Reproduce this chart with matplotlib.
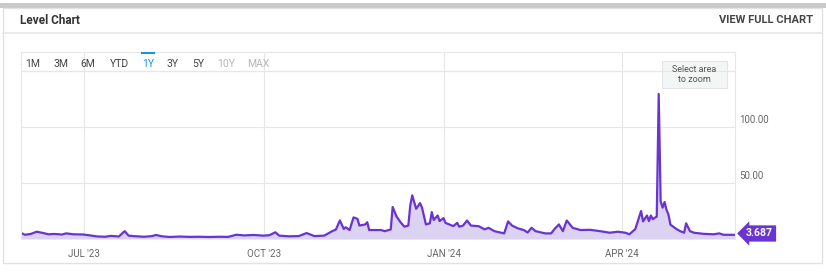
import pandas as pd
import matplotlib.pyplot as plt
import matplotlib.dates as mdates
from matplotlib.patches import Rectangle
from matplotlib.lines import Line2D

plt.rcParams['font.family'] = ['Roboto', 'DejaVu Sans']

# level series (date, value)
dates = [
    "2023-05-30", "2023-06-01", "2023-06-04", "2023-06-07", "2023-06-10", "2023-06-13",
    "2023-06-16", "2023-06-20", "2023-06-22", "2023-06-26", "2023-07-01", "2023-07-05",
    "2023-07-08", "2023-07-12", "2023-07-15", "2023-07-19", "2023-07-22", "2023-07-24",
    "2023-07-27", "2023-08-01", "2023-08-05", "2023-08-07", "2023-08-10", "2023-08-14",
    "2023-08-19", "2023-08-24", "2023-08-29", "2023-09-03", "2023-09-08", "2023-09-13",
    "2023-09-17", "2023-09-21", "2023-09-26", "2023-10-01", "2023-10-04", "2023-10-07",
    "2023-10-09", "2023-10-14", "2023-10-19", "2023-10-23", "2023-10-27", "2023-11-01",
    "2023-11-05", "2023-11-07", "2023-11-09", "2023-11-11", "2023-11-12", "2023-11-14",
    "2023-11-16", "2023-11-18", "2023-11-19", "2023-11-22", "2023-11-23", "2023-11-24",
    "2023-11-30", "2023-12-02", "2023-12-05", "2023-12-06", "2023-12-08", "2023-12-10",
    "2023-12-12", "2023-12-14", "2023-12-15", "2023-12-16", "2023-12-18", "2023-12-20",
    "2023-12-21", "2023-12-23", "2023-12-25", "2023-12-26", "2023-12-27", "2023-12-29",
    "2023-12-30", "2024-01-01", "2024-01-02", "2024-01-04", "2024-01-06", "2024-01-08",
    "2024-01-09", "2024-01-11", "2024-01-13", "2024-01-15", "2024-01-19", "2024-01-22",
    "2024-01-24", "2024-01-27", "2024-02-01", "2024-02-03", "2024-02-05", "2024-02-08",
    "2024-02-11", "2024-02-13", "2024-02-15", "2024-02-17", "2024-02-22", "2024-02-25",
    "2024-02-27", "2024-02-29", "2024-03-02", "2024-03-04", "2024-03-07", "2024-03-11",
    "2024-03-16", "2024-03-21", "2024-03-26", "2024-03-30", "2024-04-03", "2024-04-05",
    "2024-04-08", "2024-04-11", "2024-04-12", "2024-04-14", "2024-04-15", "2024-04-16",
    "2024-04-17", "2024-04-18", "2024-04-19", "2024-04-20", "2024-04-21", "2024-04-22",
    "2024-04-23", "2024-04-24", "2024-04-25", "2024-04-26", "2024-04-29", "2024-05-01",
    "2024-05-03", "2024-05-04", "2024-05-06", "2024-05-08", "2024-05-13", "2024-05-18",
    "2024-05-21", "2024-05-23", "2024-05-29",
]
levels = [
    5.4, 3.8, 4.5, 6.5, 5.5, 4.2,
    4.5, 4.0, 5.0, 4.2, 4.0, 3.0,
    2.3, 2.0, 2.8, 2.2, 7.0, 3.0,
    2.5, 2.0, 2.6, 3.6, 2.4, 1.8,
    2.2, 1.9, 2.0, 1.8, 2.0, 1.9,
    3.8, 3.2, 3.6, 3.0, 3.4, 6.0,
    3.0, 2.4, 2.6, 5.3, 2.6, 3.0,
    6.9, 8.5, 16.6, 9.0, 10.5, 8.0,
    19.3, 18.0, 12.0, 13.0, 15.0, 8.0,
    8.0, 7.0, 8.5, 28.6, 20.0, 15.0,
    11.0, 12.0, 30.0, 39.0, 27.0, 32.0,
    28.0, 13.0, 14.0, 24.0, 17.0, 21.0,
    16.0, 18.6, 14.4, 13.0, 11.5, 14.4,
    11.0, 12.0, 16.5, 12.0, 11.4, 8.6,
    10.0, 7.0, 5.0, 15.7, 12.0, 9.5,
    8.0, 5.8, 10.0, 7.0, 5.0, 5.0,
    9.4, 13.0, 7.0, 16.5, 10.0, 8.0,
    8.2, 7.0, 5.6, 6.5, 5.6, 4.2,
    8.8, 25.0, 15.7, 21.0, 16.0, 21.0,
    17.6, 19.0, 20.0, 129.5, 33.6, 28.0,
    33.0, 26.0, 21.7, 12.8, 9.0, 7.0,
    5.6, 14.0, 7.0, 5.6, 4.6, 4.2,
    5.0, 3.8, 3.687,
]
last_label = "3.687"

y_grid = [50, 100, 150]
y_labels = {50: "50.00", 100: "100.00"}
x_ticks = ["2023-07-01", "2023-10-01", "2024-01-01", "2024-04-01"]
x_tick_labels = ["JUL '23", "OCT '23", "JAN '24", "APR '24"]
ranges = ["1M", "3M", "6M", "YTD", "1Y", "3Y", "5Y", "10Y", "MAX"]

W, H = 826, 272
LINE = "#6934d2"
FILL = "#dcd2f2"
GRID = "#e7e7e7"


def fx(x):
    return x / W


def fy(y):
    return 1 - y / H


df = pd.DataFrame({"date": pd.to_datetime(dates), "level": levels})

fig = plt.figure(figsize=(W / 100, H / 100), dpi=100)

# card frame, top bar and header
fig.add_artist(Rectangle((fx(0), fy(8)), 1, 5 / H, transform=fig.transFigure,
                         fc="#c9c9c9", ec="none"))
fig.add_artist(Rectangle((fx(3), fy(263)), fx(819), (263 - 8) / H, transform=fig.transFigure,
                         fc="none", ec="#e2e2e2", lw=1))
fig.add_artist(Line2D([fx(3), fx(822)], [fy(33), fy(33)], transform=fig.transFigure,
                      color="#e6e6e6", lw=1.2))
fig.text(fx(20), fy(20), "Level Chart", fontsize=8.5, fontweight="bold",
         color="#333333", va="center", ha="left")
fig.text(fx(813), fy(20), "VIEW FULL CHART", fontsize=8, fontweight="bold",
         color="#444444", va="center", ha="right")

# plot area
ax = fig.add_axes([fx(21), fy(239), (735 - 21) / W, (239 - 52) / H])
ax.fill_between(df["date"], df["level"], 0, color=FILL, lw=0)
ax.plot(df["date"], df["level"], color=LINE, lw=1.6, solid_joinstyle="round")

ax.set_xlim(pd.Timestamp("2023-05-30"), pd.Timestamp("2024-05-29"))
ax.set_ylim(0, 167)

ax.set_yticks(y_grid)
ax.set_yticklabels([])
ax.set_xticks(pd.to_datetime(x_ticks))
ax.set_xticklabels(x_tick_labels)
ax.tick_params(axis="both", length=0)
ax.tick_params(axis="x", labelsize=7, labelcolor="#666666", pad=7)
ax.grid(True, color=GRID, lw=0.8)
ax.set_axisbelow(True)
for side in ["left", "top", "right"]:
    ax.spines[side].set_color(GRID)
    ax.spines[side].set_linewidth(0.8)
ax.spines["bottom"].set_visible(False)

for val, lab in y_labels.items():
    ax.annotate(lab, xy=(1, val), xycoords=("axes fraction", "data"),
                xytext=(3, 5), textcoords="offset points",
                fontsize=7, color="#666666", va="center", ha="left")

# last value badge
ax.annotate(last_label, xy=(1, levels[-1]), xycoords=("axes fraction", "data"),
            xytext=(8, 1), textcoords="offset points",
            fontsize=7.5, fontweight="bold", color="white", va="center", ha="left",
            bbox=dict(boxstyle="larrow,pad=0.3", fc=LINE, ec="none"),
            annotation_clip=False)

# range selector
range_x = [33, 61, 88, 119, 148, 173, 198, 226, 258]
for name, x in zip(ranges, range_x):
    if name == "1Y":
        c = "#1e8fe1"
    elif name in ("10Y", "MAX"):
        c = "#b5b5b5"
    else:
        c = "#444444"
    fig.text(fx(x), fy(64), name, fontsize=7.5, color=c, ha="center", va="center")
fig.add_artist(Line2D([fx(142), fx(154)], [fy(53), fy(53)], transform=fig.transFigure,
                      color="#1e8fe1", lw=1.5))
fig.add_artist(Line2D([fx(21), fx(735)], [fy(71), fy(71)], transform=fig.transFigure,
                      color=GRID, lw=0.8))

# zoom hint box
fig.add_artist(Rectangle((fx(662), fy(88)), 65 / W, 27 / H, transform=fig.transFigure,
                         fc="#f4f5f5", ec="#e4e4e4", lw=0.8))
fig.text(fx(694.5), fy(74.5), "Select area\nto zoom", fontsize=6.5, color="#555555",
         ha="center", va="center", linespacing=1.1)

fig.savefig("out.png", dpi=100)
